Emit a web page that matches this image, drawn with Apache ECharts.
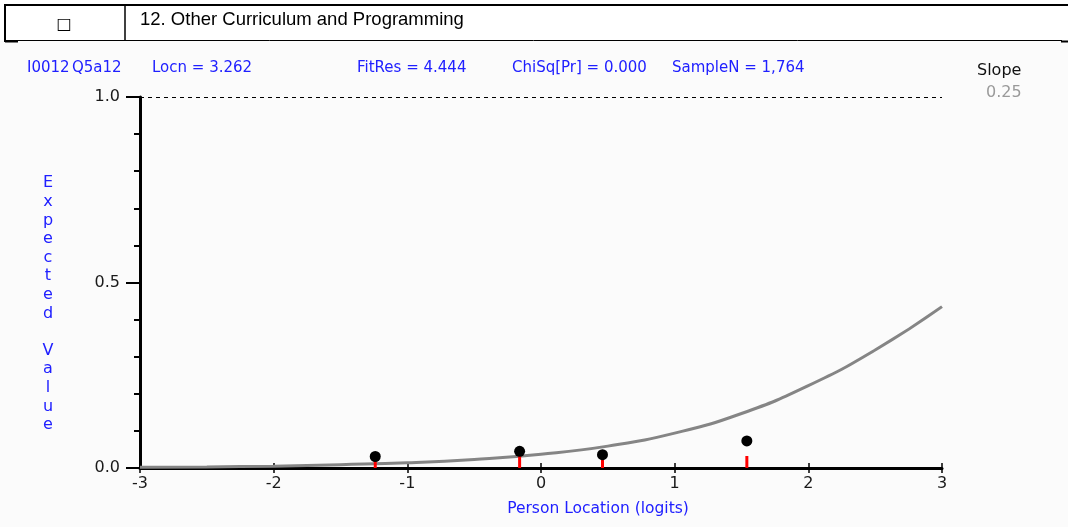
<!DOCTYPE html>
<html>
<head>
<meta charset="utf-8">
<script src="https://cdn.jsdelivr.net/npm/echarts@6/dist/echarts.min.js"></script>
<style>
  html, body { margin: 0; padding: 0; background: #ffffff; }
  #chart { width: 1068px; height: 527px; }
</style>
</head>
<body>
<div id="chart"></div>
<script>
// ---- data ----
const curveX = [-3, -2.5, -2, -1.5, -1, -0.5, 0, 0.5, 1, 1.5, 2, 2.5, 3];
const curveY = [0.002, 0.003, 0.005, 0.009, 0.014, 0.023, 0.037, 0.059, 0.094, 0.147, 0.222, 0.318, 0.435];
const obsX = [-1.24, -0.16, 0.46, 1.54];
const obsY = [0.031, 0.045, 0.036, 0.073];
const xTickLabels = ['-3', '-2', '-1', '0', '1', '2', '3'];
const yTickLabels = ['0.0', '0.5', '1.0'];
const titleText = '12. Other Curriculum and Programming';
const headerItems = ['I0012', 'Q5a12', 'Locn = 3.262', 'FitRes = 4.444', 'ChiSq[Pr] = 0.000', 'SampleN = 1,764'];
const headerX = [27, 72, 152, 357, 512, 672];
const yName = 'Expected Value';
const xName = 'Person Location (logits)';
const slopeLabel = 'Slope';
const slopeValue = '0.25';

const blue = '#2020ff';
const sansW = '"DejaVu Sans", sans-serif';
const sans = '"Liberation Sans", Arial, sans-serif';

const chart = echarts.init(document.getElementById('chart'), null, { renderer: 'canvas' });

const graphics = [
  { type: 'rect', shape: { x: 0, y: 0, width: 1068, height: 41 }, style: { fill: '#ffffff' }, silent: true },
  { type: 'line', shape: { x1: 5, y1: 5, x2: 1068, y2: 5 }, style: { stroke: '#000', lineWidth: 2 } },
  { type: 'line', shape: { x1: 5, y1: 40.5, x2: 1062, y2: 40.5 }, style: { stroke: '#000', lineWidth: 1 } },
  { type: 'line', shape: { x1: 5, y1: 41.5, x2: 18, y2: 41.5 }, style: { stroke: '#000', lineWidth: 2 } },
  { type: 'line', shape: { x1: 1061, y1: 41.5, x2: 1068, y2: 41.5 }, style: { stroke: '#000', lineWidth: 2 } },
  { type: 'line', shape: { x1: 5, y1: 4, x2: 5, y2: 42 }, style: { stroke: '#000', lineWidth: 2 } },
  { type: 'line', shape: { x1: 125, y1: 5, x2: 125, y2: 40 }, style: { stroke: '#000', lineWidth: 1.5 } },
  { type: 'text', x: 64, y: 25, style: { text: '\u25A1', font: '16px ' + sansW, fill: '#000', textAlign: 'center', textVerticalAlign: 'middle' } },
  { type: 'text', x: 140, y: 20, style: { text: titleText, font: '18.5px ' + sans, fill: '#000', textAlign: 'left', textVerticalAlign: 'middle' } },
  { type: 'text', x: 977, y: 71, style: { text: slopeLabel, font: '16px ' + sansW, fill: '#111', textAlign: 'left', textVerticalAlign: 'middle' } },
  { type: 'text', x: 986, y: 93, style: { text: slopeValue, font: '16px ' + sansW, fill: '#9a9a9a', textAlign: 'left', textVerticalAlign: 'middle' } },
  { type: 'text', x: 48, y: 174, style: { text: yName.split('').join('\n'), font: '16px ' + sansW, lineHeight: 18.6, fill: blue, textAlign: 'center', textVerticalAlign: 'top' } },
  { type: 'text', x: 598, y: 509, style: { text: xName, font: '15.5px ' + sansW, fill: blue, textAlign: 'center', textVerticalAlign: 'middle' } }
];
headerItems.forEach((t, i) => {
  graphics.push({ type: 'text', x: headerX[i], y: 68, style: { text: t, font: '15px ' + sansW, fill: blue, textAlign: 'left', textVerticalAlign: 'middle' } });
});

const axisCommonX = {
  type: 'value', min: -3, max: 3, interval: 1,
  splitLine: { show: false }
};

chart.setOption({
  animation: false,
  backgroundColor: '#fbfbfb',
  grid: { left: 140, right: 126, top: 97, bottom: 59, containLabel: false },
  xAxis: [
    Object.assign({}, axisCommonX, {
      position: 'bottom',
      axisLine: { show: true, onZero: false, lineStyle: { color: '#000', width: 3 } },
      axisTick: { show: true, length: 5, lineStyle: { color: '#000', width: 1.5 } },
      axisLabel: { margin: 8, color: '#1a1a1a', fontSize: 16, fontFamily: sansW,
        formatter: v => xTickLabels[Math.round(v) + 3] }
    }),
    Object.assign({}, axisCommonX, {
      position: 'bottom',
      axisLine: { show: false, onZero: false },
      axisTick: { show: true, inside: true, length: 5, lineStyle: { color: '#000', width: 1.5 } },
      axisLabel: { show: false }
    })
  ],
  yAxis: {
    type: 'value', min: 0, max: 1, interval: 0.5,
    axisLine: { show: true, onZero: false, lineStyle: { color: '#000', width: 3 } },
    axisTick: { show: true, length: 14, lineStyle: { color: '#000', width: 2 } },
    minorTick: { show: true, splitNumber: 5, length: 6, lineStyle: { color: '#000', width: 2 } },
    axisLabel: { margin: 20, color: '#1a1a1a', fontSize: 16, fontFamily: sansW,
      formatter: v => yTickLabels[Math.round(v * 2)] },
    splitLine: { show: false },
    minorSplitLine: { show: false }
  },
  graphic: graphics,
  series: [
    {
      type: 'line',
      data: curveX.map((x, i) => [x, curveY[i]]),
      smooth: true,
      showSymbol: false,
      lineStyle: { color: '#858585', width: 3 },
      z: 2,
      markLine: {
        silent: true,
        symbol: ['none', 'none'],
        label: { show: false },
        lineStyle: { type: [4, 4], color: '#000', width: 1 },
        data: [{ yAxis: 1 }]
      }
    },
    {
      type: 'scatter',
      data: obsX.map(x => [x, 0]),
      symbol: 'rect',
      symbolSize: [3, 12],
      symbolOffset: [0, -6],
      itemStyle: { color: '#ff0000', opacity: 1 },
      z: 3
    },
    {
      type: 'scatter',
      data: obsX.map((x, i) => [x, obsY[i]]),
      symbol: 'circle',
      symbolSize: 11,
      itemStyle: { color: '#000', opacity: 1 },
      z: 4
    }
  ]
});
</script>
</body>
</html>
